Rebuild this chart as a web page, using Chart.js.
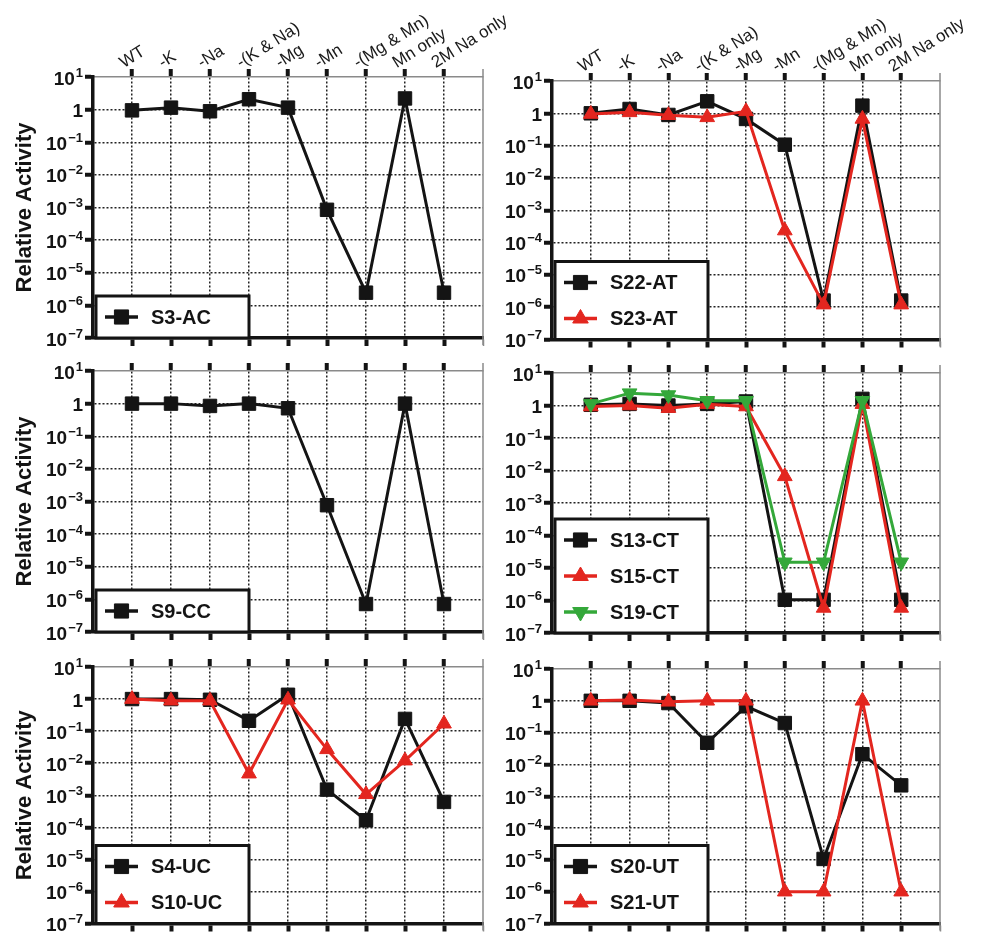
<!DOCTYPE html>
<html><head><meta charset="utf-8">
<script src="https://cdn.jsdelivr.net/npm/chart.js@4/dist/chart.umd.min.js"></script>
<style>
html,body{margin:0;padding:0;background:#fff;}
body{width:981px;height:934px;position:relative;overflow:hidden;}
canvas{position:absolute;}
</style></head><body>
<canvas id="c1"></canvas><canvas id="c2"></canvas>
<canvas id="c3"></canvas><canvas id="c4"></canvas>
<canvas id="c5"></canvas><canvas id="c6"></canvas>
<script>
// ---- data ----
const categories = ['WT', '-K', '-Na', '-(K & Na)', '-Mg', '-Mn', '-(Mg & Mn)', 'Mn only', '2M Na only'];
const yTickValues = [1e-7, 1e-6, 1e-5, 1e-4, 1e-3, 1e-2, 1e-1, 1, 10];
const yTickBase = ['10', '10', '10', '10', '10', '10', '10', '1', '10'];
const yTickExp  = ['−7', '−6', '−5', '−4', '−3', '−2', '−1', '', '1'];
const yTitle = 'Relative Activity';

const S3_AC  = [0.95, 1.15, 0.89, 2.08, 1.15, 8.5e-4, 2.45e-6, 2.2, 2.45e-6];
const S22_AT = [1.0, 1.36, 0.89, 2.35, 0.67, 0.107, 1.6e-6, 1.73, 1.6e-6];
const S23_AT = [0.95, 1.07, 0.87, 0.75, 1.15, 2.35e-4, 1.2e-6, 0.67, 1.2e-6];
const S9_CC  = [1.0, 1.0, 0.85, 1.0, 0.72, 7.7e-4, 7.2e-7, 1.0, 7.2e-7];
const S13_CT = [1.05, 1.12, 1.0, 1.12, 1.33, 1.05e-6, 1.05e-6, 1.6, 1.05e-6];
const S15_CT = [0.93, 1.0, 0.83, 1.1, 0.93, 6.6e-3, 5.9e-7, 1.1, 5.9e-7];
const S19_CT = [1.12, 2.4, 2.1, 1.4, 1.4, 1.5e-5, 1.5e-5, 1.4, 1.5e-5];
const S4_UC  = [1.0, 1.0, 0.95, 0.21, 1.36, 1.5e-3, 1.66e-4, 0.24, 6.2e-4];
const S10_UC = [1.0, 0.89, 0.89, 4.7e-3, 0.95, 0.027, 1.07e-3, 0.012, 0.17];
const S20_UT = [1.0, 1.0, 0.85, 0.048, 0.67, 0.2, 1.07e-5, 0.021, 2.2e-3];
const S21_UT = [1.0, 1.07, 0.93, 1.0, 1.0, 1e-6, 1e-6, 1.0, 1e-6];

// ---- styles ----
const FONT = '"Liberation Sans", Arial, Helvetica, sans-serif';
Chart.defaults.font.family = FONT;
const BLACK = '#141414', RED = '#e3261f', GREEN = '#34a83a';
const SQ = {style: 'rect', radius: 9.5, rot: 0};
const UP = {style: 'triangle', radius: 8.5, rot: 0};
const DOWN = {style: 'triangle', radius: 8.5, rot: 180};

const panels = [
  {id: 'c1', box: [0, 0, 530, 350], plot: [93, 77, 483, 338], title: true, labels: true,
   series: [{name: 'S3-AC', values: S3_AC, color: BLACK, mk: SQ}]},
  {id: 'c2', box: [490, 0, 491, 350], plot: [552, 81, 940, 340], title: false, labels: true,
   series: [{name: 'S22-AT', values: S22_AT, color: BLACK, mk: SQ}, {name: 'S23-AT', values: S23_AT, color: RED, mk: UP}]},
  {id: 'c3', box: [0, 345, 530, 300], plot: [93, 371, 483, 632], title: true, labels: false,
   series: [{name: 'S9-CC', values: S9_CC, color: BLACK, mk: SQ}]},
  {id: 'c4', box: [490, 345, 491, 300], plot: [552, 373, 940, 633], title: false, labels: false,
   series: [{name: 'S13-CT', values: S13_CT, color: BLACK, mk: SQ}, {name: 'S15-CT', values: S15_CT, color: RED, mk: UP}, {name: 'S19-CT', values: S19_CT, color: GREEN, mk: DOWN}]},
  {id: 'c5', box: [0, 640, 530, 294], plot: [93, 667, 483, 925], title: true, labels: false,
   series: [{name: 'S4-UC', values: S4_UC, color: BLACK, mk: SQ}, {name: 'S10-UC', values: S10_UC, color: RED, mk: UP}]},
  {id: 'c6', box: [490, 640, 491, 294], plot: [552, 669, 940, 928], title: false, labels: false,
   series: [{name: 'S20-UT', values: S20_UT, color: BLACK, mk: SQ}, {name: 'S21-UT', values: S21_UT, color: RED, mk: UP}]}
];

const framePlugin = {
  id: 'frame',
  afterDraw(chart) {
    const {ctx, chartArea: a} = chart;
    ctx.save();
    ctx.strokeStyle = '#8a8a8a';
    ctx.lineWidth = 1.5;
    ctx.beginPath();
    ctx.moveTo(a.right, a.top - 8);
    ctx.lineTo(a.right, a.bottom + 7);
    ctx.stroke();
    ctx.restore();
  }
};

// power-of-ten tick labels with real superscripts
const powerLabelPlugin = {
  id: 'powerLabels',
  afterDraw(chart) {
    const ctx = chart.ctx, s = chart.scales.y;
    const xr = s.right - 10;
    ctx.save();
    ctx.fillStyle = BLACK;
    ctx.textBaseline = 'alphabetic';
    ctx.textAlign = 'left';
    yTickValues.forEach((v, i) => {
      const y = s.getPixelForValue(v);
      const base = yTickBase[i], exp = yTickExp[i];
      ctx.font = 'bold 19px ' + FONT;
      const wb = ctx.measureText(base).width;
      ctx.font = 'bold 13px ' + FONT;
      const we = exp ? ctx.measureText(exp).width + 1 : 0;
      const x0 = xr - wb - we;
      ctx.font = 'bold 19px ' + FONT;
      ctx.fillText(base, x0, y + 7.5);
      if (exp) {
        ctx.font = 'bold 13px ' + FONT;
        ctx.fillText(exp, x0 + wb + 1, y - 0.5);
      }
    });
    ctx.restore();
  }
};

const boxLegendPlugin = {
  id: 'boxLegend',
  afterDraw(chart) {
    const {ctx, chartArea: a} = chart;
    const ds = chart.data.datasets;
    const n = ds.length;
    const h = 36 * n + 6, w = 153, x = a.left + 3, y = a.bottom - h;
    ctx.save();
    ctx.fillStyle = '#fff';
    ctx.fillRect(x, y, w, h);
    ctx.lineWidth = 3;
    ctx.strokeStyle = BLACK;
    ctx.strokeRect(x, y, w, h);
    ds.forEach((d, i) => {
      const cy = y + 21 + 36 * i;
      ctx.strokeStyle = d.borderColor;
      ctx.fillStyle = d.borderColor;
      ctx.lineWidth = 3.5;
      ctx.beginPath();
      ctx.moveTo(x + 9, cy);
      ctx.lineTo(x + 42, cy);
      ctx.stroke();
      ctx.lineWidth = 1;
      Chart.helpers.drawPoint(ctx, {pointStyle: d.pointStyle, rotation: d.pointRotation, radius: d.pointRadius + 0.5, borderWidth: 1}, x + 25.5, cy);
      ctx.fillStyle = BLACK;
      ctx.font = 'bold 20px ' + FONT;
      ctx.textBaseline = 'middle';
      ctx.textAlign = 'left';
      ctx.fillText(d.label, x + 55, cy + 1);
    });
    ctx.restore();
  }
};

const xTicks = [0, 1, 2, 3, 4, 5, 6, 7, 8, 9, 10];
const inner = v => v >= 1 && v <= 9;

function makeChart(p) {
  const cv = document.getElementById(p.id);
  const [bx, by, bw, bh] = p.box;
  const [pl, pt, pr, pb] = p.plot;
  cv.width = bw; cv.height = bh;
  cv.style.left = bx + 'px'; cv.style.top = by + 'px';
  cv.style.width = bw + 'px'; cv.style.height = bh + 'px';
  const yW = pl - bx, topH = pt - by, botH = by + bh - pb, rightPad = bx + bw - pr;

  const xCommon = {
    type: 'linear', min: 0, max: 10,
    afterBuildTicks: s => { s.ticks = xTicks.map(v => ({value: v})); },
  };

  new Chart(cv, {
    type: 'line',
    data: {
      datasets: p.series.map((s, i) => ({
        label: s.name,
        data: s.values.map((v, j) => ({x: j + 1, y: v})),
        borderColor: s.color, backgroundColor: s.color,
        pointBackgroundColor: s.color, pointBorderColor: s.color,
        borderWidth: 3, pointBorderWidth: 1,
        pointStyle: s.mk.style, pointRotation: s.mk.rot, pointRadius: s.mk.radius,
        tension: 0, order: p.series.length - i
      }))
    },
    options: {
      responsive: false, animation: false, devicePixelRatio: 1,
      layout: {padding: {left: 0, right: rightPad, top: 0, bottom: 0}},
      plugins: {legend: {display: false}, tooltip: {enabled: false}},
      scales: {
        x: Object.assign({}, xCommon, {
          position: 'top',
          afterFit: s => { s.height = topH; s.paddingLeft = 0; s.paddingRight = 0; },
          ticks: {
            display: p.labels, autoSkip: false, minRotation: 32, maxRotation: 32, padding: -4,
            font: {size: 17}, color: '#1a1a1a',
            callback: v => inner(v) ? categories[v - 1] : ''
          },
          grid: {
            color: c => (c.tick && inner(c.tick.value)) ? '#222' : 'rgba(0,0,0,0)',
            lineWidth: 1.5, tickLength: 8, tickWidth: 4, tickBorderDash: [100, 0],
            tickColor: c => (c.tick && inner(c.tick.value)) ? BLACK : 'rgba(0,0,0,0)'
          },
          border: {color: '#8a8a8a', width: 1.5, dash: [2, 2]}
        }),
        x2: Object.assign({}, xCommon, {
          position: 'bottom',
          afterFit: s => { s.height = botH; s.paddingLeft = 0; s.paddingRight = 0; },
          ticks: {display: false},
          grid: {
            drawOnChartArea: false, tickLength: 8, tickBorderDash: [100, 0],
            tickWidth: c => (c.tick && inner(c.tick.value)) ? 4 : 1.5,
            tickColor: c => (c.tick && c.tick.value === 0) ? 'rgba(0,0,0,0)' : (c.tick && c.tick.value === 10 ? '#8a8a8a' : BLACK)
          },
          border: {color: BLACK, width: 3.5}
        }),
        y: {
          type: 'logarithmic', position: 'left', min: 1e-7, max: 10,
          afterBuildTicks: s => { s.ticks = yTickValues.map(v => ({value: v})); },
          afterFit: s => { s.width = yW; s.paddingTop = 0; s.paddingBottom = 0; },
          ticks: {display: false},
          grid: {
            color: c => (c.tick && c.tick.value > 1.5e-7 && c.tick.value < 5) ? '#222' : 'rgba(0,0,0,0)',
            lineWidth: 1.5, tickLength: 8, tickWidth: 4, tickColor: BLACK, tickBorderDash: [100, 0]
          },
          border: {color: BLACK, width: 3.5, dash: [2, 2]},
          title: {display: p.title, text: yTitle, color: BLACK, font: {size: 22, weight: 'bold'}, padding: {top: 12, bottom: 0}}
        }
      }
    },
    plugins: [framePlugin, powerLabelPlugin, boxLegendPlugin]
  });
}
panels.forEach(makeChart);
</script>
</body></html>
